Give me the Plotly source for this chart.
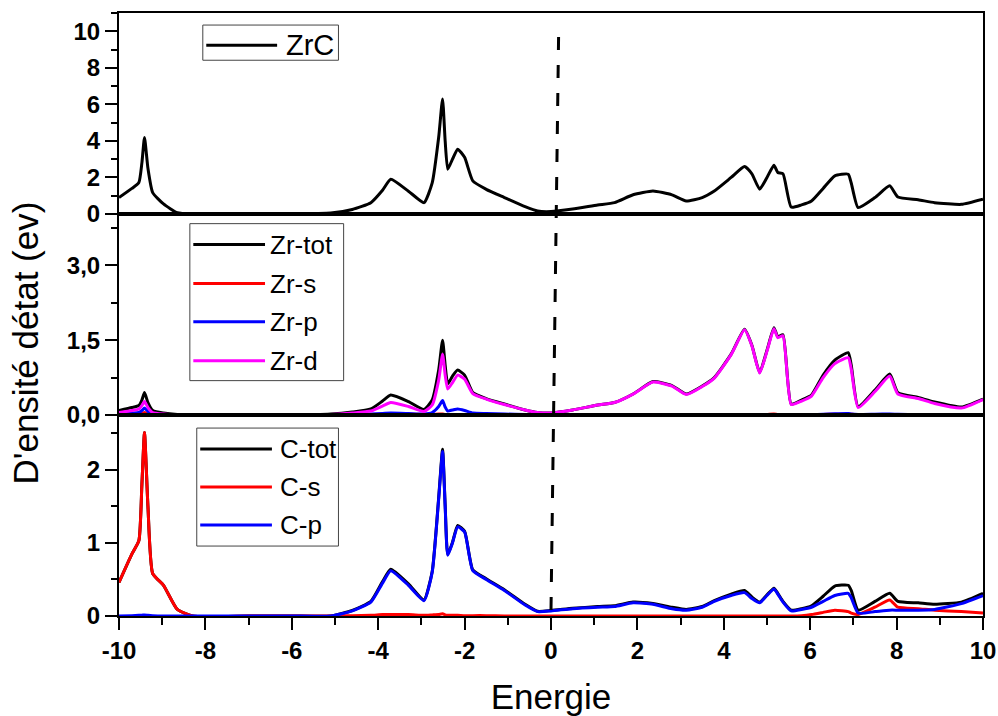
import plotly.graph_objects as go
from plotly.subplots import make_subplots

# ---------------- data ----------------
energy = [-10, -9.7, -9.54, -9.47, -9.41, -9.33, -9.22, -8.97, -8.65, -8.3,
          -7, -6, -5.1, -4.6, -4.17, -3.9, -3.71, -3.3, -2.94, -2.75,
          -2.6, -2.51, -2.45, -2.39, -2.28, -2.16, -2.0, -1.81, -1.5, -1.08,
          -0.6, -0.31, 0, 0.5, 1.08, 1.47, 1.9, 2.36, 2.8, 3.13,
          3.5, 3.78, 4.17, 4.48, 4.65, 4.83, 5.0, 5.16, 5.25, 5.37,
          5.56, 5.8, 6.03, 6.3, 6.57, 6.88, 6.95, 7.11, 7.5, 7.84,
          8.03, 8.5, 8.88, 9.5, 10]

zrc = [0.9, 1.4, 1.72, 2.8, 4.19, 2.5, 1.17, 0.55, 0.07, 0.0,
       0.0, 0.0, 0.05, 0.25, 0.62, 1.3, 1.9, 1.25, 0.62, 1.7,
       4.2, 6.3, 4.0, 2.45, 3.0, 3.55, 3.1, 1.81, 1.35, 0.9,
       0.4, 0.16, 0.13, 0.27, 0.49, 0.62, 1.05, 1.26, 1.05, 0.71,
       0.9, 1.26, 2.0, 2.6, 2.2, 1.36, 2.0, 2.67, 2.27, 2.2,
       0.38, 0.5, 0.71, 1.4, 2.09, 2.18, 1.7, 0.35, 0.9, 1.54,
       0.93, 0.78, 0.62, 0.53, 0.81]

zr_tot = [0.09, 0.15, 0.19, 0.3, 0.45, 0.25, 0.09, 0.04, 0.01, 0.0,
          0.0, 0.0, 0.02, 0.06, 0.12, 0.28, 0.4, 0.27, 0.11, 0.3,
          0.9, 1.5, 1.0, 0.62, 0.78, 0.9, 0.8, 0.45, 0.33, 0.22,
          0.1, 0.05, 0.04, 0.1, 0.2, 0.25, 0.42, 0.67, 0.59, 0.42,
          0.58, 0.75, 1.22, 1.72, 1.4, 0.85, 1.3, 1.75, 1.57, 1.61,
          0.22, 0.3, 0.4, 0.8, 1.1, 1.25, 1.0, 0.17, 0.5, 0.82,
          0.45, 0.35, 0.26, 0.16, 0.32]

zr_s = [0.01, 0.01, 0.02, 0.03, 0.05, 0.02, 0.01, 0.0, 0.0, 0.0,
        0.0, 0.0, 0.0, 0.01, 0.01, 0.02, 0.03, 0.02, 0.01, 0.01,
        0.02, 0.02, 0.01, 0.01, 0.01, 0.01, 0.01, 0.0, 0.0, 0.0,
        0.0, 0.0, 0.0, 0.0, 0.0, 0.0, 0.0, 0.0, 0.0, 0.0,
        0.0, 0.0, 0.0, 0.005, 0.005, 0.005, 0.01, 0.02, 0.01, 0.01,
        0.0, 0.0, 0.005, 0.01, 0.015, 0.02, 0.015, 0.005, 0.005, 0.01,
        0.005, 0.0, 0.0, 0.0, 0.0]

zr_p = [0.02, 0.04, 0.05, 0.09, 0.14, 0.07, 0.02, 0.01, 0.0, 0.0,
        0.0, 0.0, 0.0, 0.01, 0.02, 0.03, 0.04, 0.03, 0.02, 0.05,
        0.17, 0.29, 0.16, 0.08, 0.1, 0.12, 0.09, 0.04, 0.03, 0.02,
        0.01, 0.005, 0.005, 0.005, 0.005, 0.005, 0.005, 0.005, 0.005, 0.005,
        0.005, 0.005, 0.01, 0.01, 0.01, 0.01, 0.01, 0.01, 0.01, 0.01,
        0.005, 0.01, 0.01, 0.015, 0.025, 0.03, 0.02, 0.01, 0.015, 0.02,
        0.015, 0.01, 0.01, 0.01, 0.01]

zr_d = [0.05, 0.09, 0.12, 0.19, 0.27, 0.15, 0.05, 0.02, 0.005, 0.0,
        0.0, 0.0, 0.01, 0.04, 0.08, 0.18, 0.25, 0.17, 0.07, 0.2,
        0.7, 1.22, 0.8, 0.52, 0.65, 0.8, 0.72, 0.43, 0.32, 0.21,
        0.1, 0.05, 0.04, 0.1, 0.2, 0.25, 0.42, 0.66, 0.58, 0.41,
        0.57, 0.74, 1.21, 1.71, 1.39, 0.84, 1.28, 1.73, 1.55, 1.59,
        0.21, 0.28, 0.38, 0.75, 1.03, 1.15, 0.92, 0.15, 0.47, 0.78,
        0.42, 0.33, 0.23, 0.14, 0.31]

c_tot = [0.46, 0.85, 1.03, 1.8, 2.51, 1.5, 0.58, 0.42, 0.09, 0.0,
         0.0, 0.0, 0.0, 0.075, 0.2, 0.47, 0.64, 0.44, 0.22, 0.61,
         1.62, 2.28, 1.52, 0.84, 1.01, 1.24, 1.16, 0.63, 0.51, 0.36,
         0.16, 0.065, 0.075, 0.105, 0.13, 0.14, 0.19, 0.17, 0.12, 0.09,
         0.13, 0.21, 0.3, 0.35, 0.26, 0.19, 0.29, 0.38, 0.31, 0.2,
         0.08, 0.1, 0.14, 0.27, 0.41, 0.42, 0.35, 0.08, 0.2, 0.31,
         0.2, 0.18, 0.16, 0.19, 0.31]

c_s = [0.46, 0.85, 1.03, 1.8, 2.51, 1.5, 0.58, 0.42, 0.09, 0.0,
       0.0, 0.0, 0.0, 0.005, 0.01, 0.02, 0.02, 0.02, 0.01, 0.015,
       0.02, 0.03, 0.015, 0.01, 0.01, 0.01, 0.005, 0.005, 0.005, 0.0,
       0.0, 0.0, 0.0, 0.0, 0.0, 0.0, 0.0, 0.0, 0.0, 0.0,
       0.0, 0.0, 0.0, 0.0, 0.0, 0.0, 0.0, 0.0, 0.0, 0.0,
       0.0, 0.005, 0.02, 0.05, 0.08, 0.06, 0.04, 0.02, 0.12, 0.22,
       0.12, 0.1, 0.08, 0.06, 0.04]

c_p = [0.0, 0.005, 0.01, 0.01, 0.015, 0.01, 0.005, 0.0, 0.0, 0.0,
       0.0, 0.0, 0.0, 0.07, 0.19, 0.45, 0.62, 0.42, 0.21, 0.6,
       1.6, 2.25, 1.5, 0.83, 1.0, 1.22, 1.15, 0.62, 0.5, 0.35,
       0.15, 0.06, 0.07, 0.1, 0.12, 0.13, 0.18, 0.16, 0.1, 0.08,
       0.12, 0.2, 0.28, 0.32, 0.24, 0.18, 0.28, 0.37, 0.3, 0.19,
       0.07, 0.09, 0.12, 0.2, 0.28, 0.31, 0.25, 0.04, 0.06, 0.08,
       0.08, 0.08, 0.09, 0.17, 0.28]

x_tickvals = [-10, -8, -6, -4, -2, 0, 2, 4, 6, 8, 10]
x_ticktext = ["-10", "-8", "-6", "-4", "-2", "0", "2", "4", "6", "8", "10"]

BLACK, RED, BLUE, MAGENTA = "#000000", "#ff0000", "#0000ff", "#ff00ff"

panels = [
    # (row, series, y-range, dtick, minor dtick, tickformat)
    (1, [("ZrC", zrc, BLACK)], [0, 11], 2, 1, None),
    (2, [("Zr-tot", zr_tot, BLACK), ("Zr-s", zr_s, RED),
         ("Zr-p", zr_p, BLUE), ("Zr-d", zr_d, MAGENTA)], [0, 4.03], 1.5, 0.75, ".1f"),
    (3, [("C-tot", c_tot, BLACK), ("C-s", c_s, RED), ("C-p", c_p, BLUE)], [0, 2.75], 1, 0.5, None),
]

# legend boxes: (box x0, x1, y0, y1 in domain fractions), entry y's, line x0/x1, text x, font size
legend_layout = {
    1: dict(box=(0.097, 0.254, 0.765, 0.94), ys=[0.84], lx=(0.101, 0.183), tx=0.191, fs=29),
    2: dict(box=(0.082, 0.260, 0.171, 0.952), ys=[0.848, 0.654, 0.464, 0.270],
            lx=(0.086, 0.169), tx=0.1725, fs=26),
    3: dict(box=(0.090, 0.254, 0.348, 0.935), ys=[0.831, 0.642, 0.453],
            lx=(0.094, 0.177), tx=0.184, fs=26),
}

FONT = "Liberation Sans, Arial, sans-serif"

fig = make_subplots(rows=3, cols=1, shared_xaxes=True, vertical_spacing=0)

shapes = []
annotations = []
for row, series, yr, dt, mdt, tf in panels:
    for name, vals, col in series:
        fig.add_trace(go.Scatter(x=energy, y=vals, mode="lines", name=name,
                                 line=dict(color=col, width=3, shape="spline", smoothing=0.5),
                                 showlegend=False), row=row, col=1)
    yref = "y" if row == 1 else f"y{row}"
    xd = "x domain" if row == 1 else f"x{row} domain"
    yd = f"{yref} domain"
    L = legend_layout[row]
    bx0, bx1, by0, by1 = L["box"]
    shapes.append(dict(type="rect", xref=xd, yref=yd, x0=bx0, x1=bx1, y0=by0, y1=by1,
                       line=dict(color="#444444", width=1), fillcolor="rgba(0,0,0,0)"))
    for (name, vals, col), ly in zip(series, L["ys"]):
        shapes.append(dict(type="line", xref=xd, yref=yd, x0=L["lx"][0], x1=L["lx"][1],
                           y0=ly, y1=ly, line=dict(color=col, width=3)))
        annotations.append(dict(text=name, xref=xd, yref=yd, x=L["tx"], y=ly,
                                xanchor="left", yanchor="middle", showarrow=False,
                                font=dict(family=FONT, size=L["fs"], color="black")))
    fig.update_yaxes(row=row, col=1, range=yr, dtick=dt, tick0=0, tickformat=tf,
                     automargin=False,
                     showline=True, linecolor="black", linewidth=2, mirror=True,
                     ticks="outside", ticklen=12, tickwidth=2, tickcolor="black",
                     minor=dict(dtick=mdt, tick0=0, ticks="outside", ticklen=6,
                                tickwidth=2, tickcolor="black"),
                     showgrid=False, zeroline=False,
                     tickfont=dict(family=FONT, size=24, color="black", weight="bold"))
    if row < 3:
        fig.update_xaxes(row=row, col=1, range=[-10, 10], showline=True, linecolor="black",
                         linewidth=2, mirror=True, ticks="", showticklabels=False,
                         showgrid=False, zeroline=False, automargin=False)
    else:
        fig.update_xaxes(row=row, col=1, range=[-10, 10], automargin=False,
                         tickmode="array", tickvals=x_tickvals, ticktext=x_ticktext,
                         showline=True, linecolor="black", linewidth=2, mirror=True,
                         ticks="outside", ticklen=12, tickwidth=2, tickcolor="black",
                         minor=dict(dtick=1, tick0=0, ticks="outside", ticklen=7,
                                    tickwidth=2, tickcolor="black"),
                         showgrid=False, zeroline=False,
                         tickfont=dict(family=FONT, size=24, color="black", weight="bold"),
                         title=dict(text="Energie", standoff=22,
                                    font=dict(family=FONT, size=35, color="black")))

# Fermi level dashed line across all panels
shapes.append(dict(type="line", xref="x3", yref="paper", x0=0.0, x1=0.18, y0=0.01, y1=0.985,
                   line=dict(color="black", width=3, dash="13px,15px")))

annotations.append(dict(text="D'ensité détat (ev)", xref="paper", yref="paper",
                        x=-0.108, y=0.453, xanchor="center", yanchor="middle",
                        textangle=-90, showarrow=False,
                        font=dict(family=FONT, size=35, color="black")))

fig.update_layout(width=998, height=716, margin=dict(l=119, r=15, t=13, b=100, autoexpand=False),
                  plot_bgcolor="white", paper_bgcolor="white", separators=", ",
                  font=dict(family=FONT, color="black"),
                  shapes=shapes, annotations=annotations, showlegend=False)

fig.write_html("out.html")
